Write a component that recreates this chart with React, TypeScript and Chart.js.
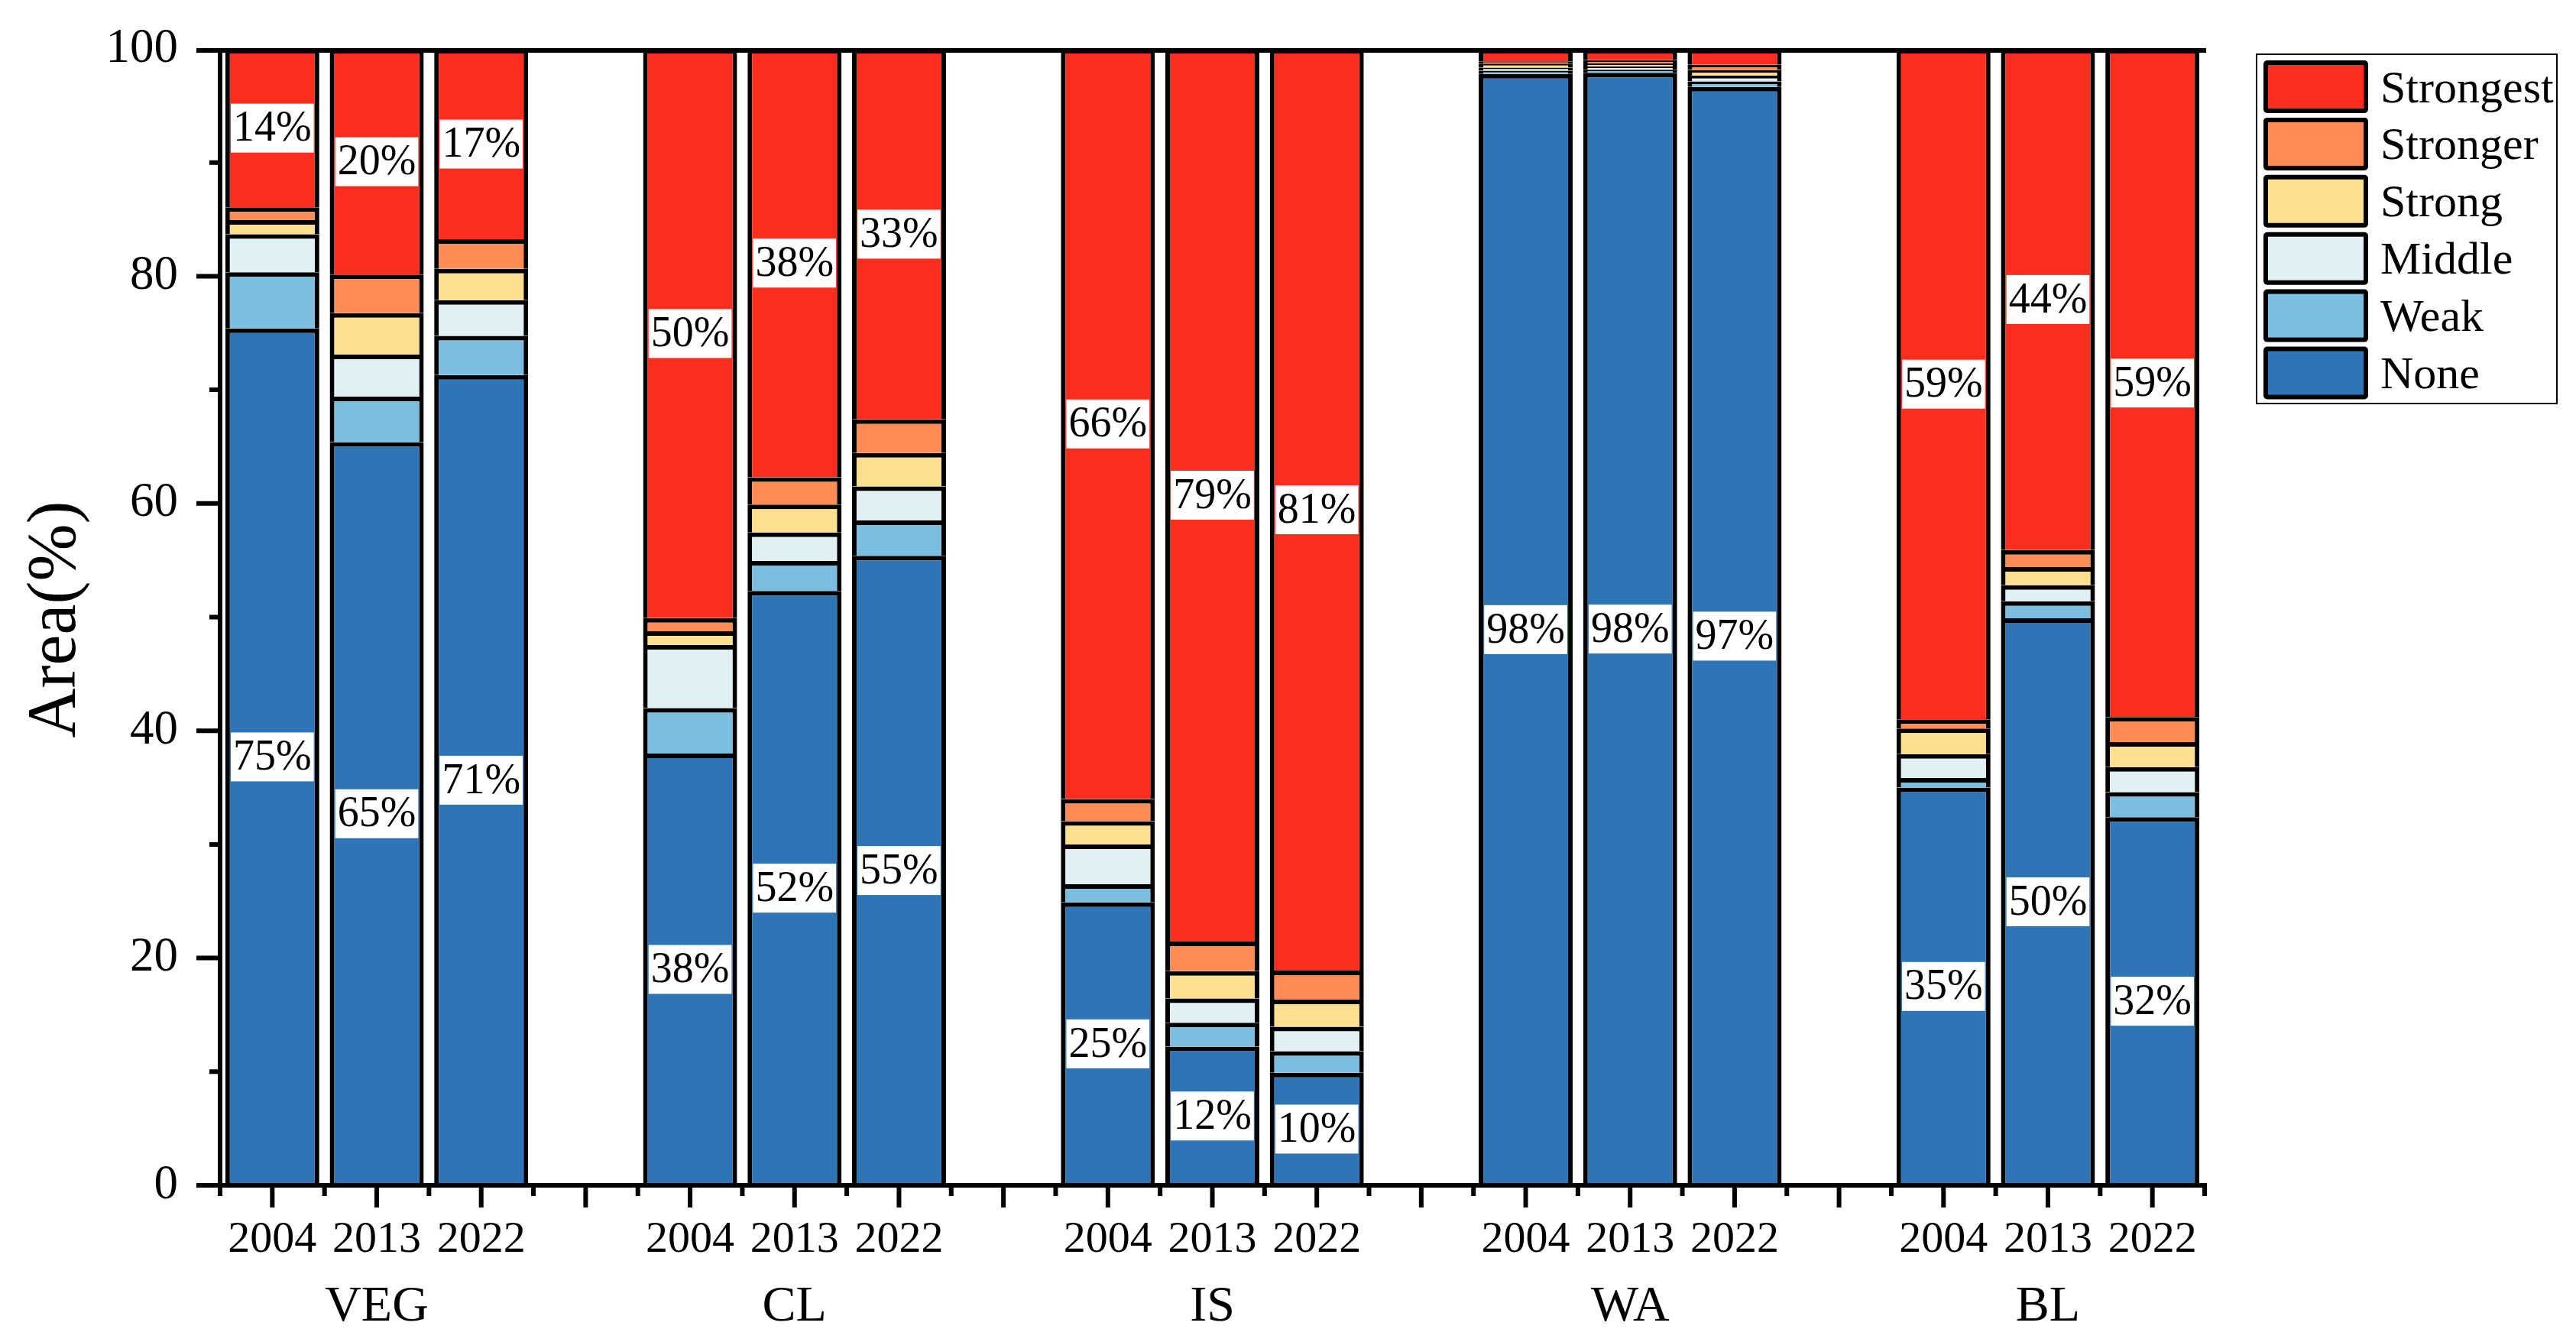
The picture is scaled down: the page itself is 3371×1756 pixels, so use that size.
import React, { useEffect, useRef } from "react";
import { Chart, registerables } from "chart.js";

Chart.register(...registerables);

const categories = ["2004", "2013", "2022", "", "2004", "2013", "2022", "", "2004", "2013", "2022", "", "2004", "2013", "2022", "", "2004", "2013", "2022"];
const groups = ["VEG", "CL", "IS", "WA", "BL"];
const groupCenterIndex = [1, 5, 9, 13, 17];

const none = [75.4, 65.4, 71.3, null, 38.0, 52.3, 55.4, null, 24.9, 12.2, 9.9, null, 97.8, 97.9, 96.65, null, 35.0, 49.9, 32.4];
const weak = [4.95, 4.0, 3.45, null, 4.0, 2.65, 3.1, null, 1.6, 2.1, 1.9, null, 0.28, 0.275, 0.5, null, 0.85, 1.5, 2.2];
const middle = [3.35, 3.7, 3.15, null, 5.55, 2.5, 3.0, null, 3.5, 2.15, 2.15, null, 0.28, 0.275, 0.5, null, 2.1, 1.4, 2.2];
const strong = [1.24, 3.65, 2.75, null, 1.2, 2.45, 2.95, null, 2.05, 2.4, 2.4, null, 0.35, 0.275, 0.5, null, 2.25, 1.6, 2.2];
const stronger = [1.12, 3.4, 2.6, null, 1.16, 2.4, 2.95, null, 1.95, 2.6, 2.55, null, 0.2, 0.275, 0.45, null, 0.8, 1.5, 2.2];
const strongest = [13.94, 19.85, 16.75, null, 50.09, 37.7, 32.6, null, 66.0, 78.55, 81.1, null, 1.09, 1.0, 1.4, null, 59.0, 44.1, 58.8];

const seriesNames = ["None", "Weak", "Middle", "Strong", "Stronger", "Strongest"];
const seriesValues = [none, weak, middle, strong, stronger, strongest];
const seriesColors = ["#2E75B6", "#7BBEE0", "#E0F0F3", "#FEDF8F", "#FF8C55", "#FE2E1F"];
const labeledSeries = [0, 5];
const minLabelValue = 5;

const yTicks = [0, 20, 40, 60, 80, 100];
const yMinorTicks = [10, 30, 50, 70, 90];

const FONT = "'Liberation Serif', 'Times New Roman', serif";
const W = 3371;
const H = 1756;

const decorPlugin = {
  id: "decor",
  afterDatasetsDraw(chart: any) {
    const ctx = chart.ctx;
    const area = chart.chartArea;
    const xs = chart.scales.x;
    const ys = chart.scales.y;
    ctx.save();

    // value labels
    ctx.font = `56px ${FONT}`;
    ctx.textAlign = "center";
    ctx.textBaseline = "middle";
    labeledSeries.forEach((di) => {
      const meta = chart.getDatasetMeta(di);
      const vals = seriesValues[di];
      meta.data.forEach((el: any, i: number) => {
        const v = vals[i];
        if (v === null || v === undefined || v < minLabelValue) return;
        const cx = el.x;
        const cy = (el.y + el.base) / 2;
        const txt = Math.round(v) + "%";
        const tw = ctx.measureText(txt).width;
        ctx.fillStyle = "#FFFFFF";
        ctx.fillRect(cx - tw / 2 - 3, cy - 32, tw + 6, 64);
        ctx.fillStyle = "#000000";
        ctx.fillText(txt, cx, cy + 2);
      });
    });

    // axes frame
    ctx.strokeStyle = "#000000";
    ctx.lineWidth = 6;
    ctx.lineCap = "butt";
    const left = area.left;
    const right = area.right;
    const bottom = ys.getPixelForValue(0);
    const top = ys.getPixelForValue(100);
    ctx.beginPath();
    ctx.moveTo(left, top - 1);
    ctx.lineTo(left, bottom + 3);
    ctx.moveTo(left - 3, bottom);
    ctx.lineTo(right + 3, bottom);
    ctx.moveTo(left, top + 2);
    ctx.lineTo(right + 2, top + 2);
    ctx.stroke();

    // y ticks
    ctx.beginPath();
    yTicks.forEach((t) => {
      const py = t === 100 ? top + 2 : ys.getPixelForValue(t);
      ctx.moveTo(left - 31, py);
      ctx.lineTo(left, py);
    });
    yMinorTicks.forEach((t) => {
      const py = ys.getPixelForValue(t);
      ctx.moveTo(left - 14, py);
      ctx.lineTo(left, py);
    });
    // x ticks
    const n = categories.length;
    for (let i = 0; i < n; i++) {
      const px = xs.getPixelForValue(i);
      ctx.moveTo(px, bottom);
      ctx.lineTo(px, bottom + 29);
    }
    const slot = (right - left) / n;
    for (let i = 0; i <= n; i++) {
      const px = left + i * slot;
      ctx.moveTo(px, bottom);
      ctx.lineTo(px, bottom + 14);
    }
    ctx.stroke();

    // group labels
    ctx.fillStyle = "#000000";
    ctx.font = `66px ${FONT}`;
    ctx.textAlign = "center";
    ctx.textBaseline = "alphabetic";
    groups.forEach((g, gi) => {
      const px = xs.getPixelForValue(groupCenterIndex[gi]);
      ctx.fillText(g, px, 1728);
    });

    // y title
    ctx.save();
    ctx.translate(98, (top + bottom) / 2 + 3);
    ctx.rotate(-Math.PI / 2);
    ctx.font = `90px ${FONT}`;
    ctx.textAlign = "center";
    ctx.textBaseline = "alphabetic";
    ctx.fillText("Area(%)", 0, 0);
    ctx.restore();

    // legend
    const lx = 2953;
    const ly = 71;
    const lw = 393;
    const lh = 457;
    ctx.lineWidth = 2;
    ctx.strokeRect(lx, ly, lw, lh);
    const order = [5, 4, 3, 2, 1, 0];
    ctx.font = `60px ${FONT}`;
    ctx.textAlign = "left";
    ctx.textBaseline = "alphabetic";
    order.forEach((si, k) => {
      const sy = 79 + k * 74.9;
      const sx = 2962;
      const sw = 137;
      const sh = 69;
      ctx.fillStyle = "#000000";
      ctx.beginPath();
      if ((ctx as any).roundRect) {
        (ctx as any).roundRect(sx, sy, sw, sh, 5);
      } else {
        ctx.rect(sx, sy, sw, sh);
      }
      ctx.fill();
      ctx.fillStyle = seriesColors[si];
      ctx.fillRect(sx + 6, sy + 6, sw - 12, sh - 12);
      ctx.fillStyle = "#000000";
      ctx.fillText(seriesNames[si], 3115, sy + sh / 2 + 20);
    });

    ctx.restore();
  },
};

export default function App() {
  const ref = useRef<HTMLCanvasElement | null>(null);

  useEffect(() => {
    document.body.style.margin = "0";
    document.body.style.overflow = "hidden";
    const canvas = ref.current;
    if (!canvas) return;
    const chart = new Chart(canvas, {
      type: "bar",
      data: {
        labels: categories,
        datasets: seriesValues.map((vals, i) => ({
          label: seriesNames[i],
          data: vals,
          backgroundColor: seriesColors[i],
          borderColor: "#000000",
          borderWidth: 6,
          borderSkipped: "start",
          barPercentage: 0.9,
          categoryPercentage: 1,
        })),
      },
      options: {
        responsive: false,
        animation: false,
        devicePixelRatio: 1,
        layout: { padding: { top: 64, right: W - 2885, left: 0, bottom: 0 } },
        plugins: {
          legend: { display: false },
          tooltip: { enabled: false },
          title: { display: false },
        },
        scales: {
          x: {
            stacked: true,
            offset: true,
            grid: { display: false, drawTicks: false },
            border: { display: false },
            ticks: {
              color: "#000000",
              font: { family: FONT, size: 58 },
              padding: 37,
              maxRotation: 0,
              minRotation: 0,
              autoSkip: false,
            },
            afterFit: (scale: any) => {
              scale.height = H - 1551;
              scale.paddingLeft = 0;
              scale.paddingRight = 0;
            },
          },
          y: {
            stacked: true,
            min: 0,
            max: 100,
            grid: { display: false, drawTicks: false },
            border: { display: false },
            ticks: {
              stepSize: 20,
              color: "#000000",
              font: { family: FONT, size: 63 },
              padding: 55,
            },
            afterFit: (scale: any) => {
              scale.width = 288;
              scale.paddingTop = 0;
              scale.paddingBottom = 0;
            },
          },
        },
      },
      plugins: [decorPlugin],
    });
    return () => chart.destroy();
  }, []);

  return (
    <div style={{ width: W, height: H, background: "#FFFFFF" }}>
      <canvas ref={ref} width={W} height={H} style={{ display: "block", width: W, height: H }} />
    </div>
  );
}
